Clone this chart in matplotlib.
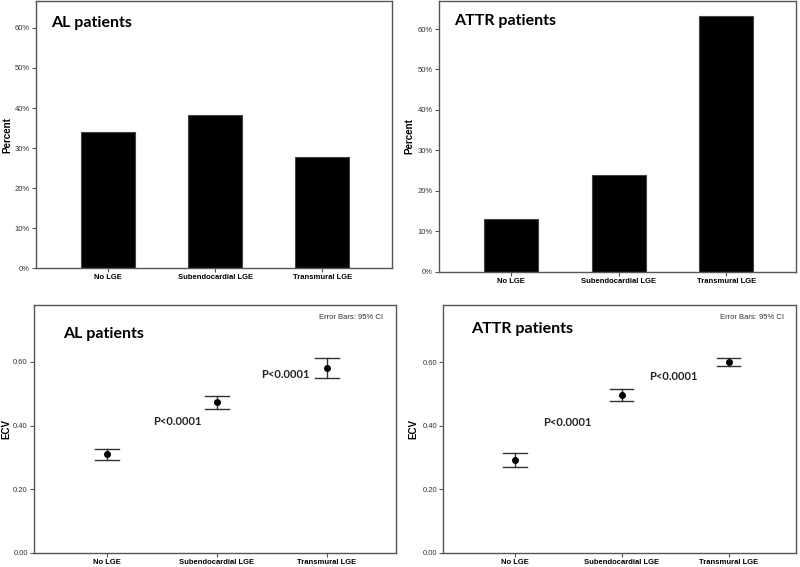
import matplotlib
matplotlib.use("Agg")
import matplotlib.pyplot as plt

categories = ["No LGE", "Subendocardial LGE", "Transmural LGE"]

# percent of patients per LGE pattern
al_pct = [34.0, 38.3, 27.7]
attr_pct = [13.0, 23.9, 63.3]

# ECV mean and 95% CI
al_ecv = [0.310, 0.473, 0.581]
al_lo = [0.293, 0.452, 0.551]
al_hi = [0.326, 0.493, 0.612]
attr_ecv = [0.293, 0.497, 0.600]
attr_lo = [0.270, 0.479, 0.587]
attr_hi = [0.315, 0.515, 0.613]

p_text = "P<0.0001"
al_p_pos = [(0.42, 0.414), (1.40, 0.562)]
attr_p_pos = [(0.26, 0.41), (1.26, 0.554)]

tick_font = "Liberation Sans"
title_font = "Lato"
frame_col = "#555555"

fig = plt.figure(figsize=(8, 5.67), dpi=100)


def style_axes(ax):
    for s in ax.spines.values():
        s.set_color(frame_col)
        s.set_linewidth(1.0)
    ax.tick_params(axis="both", direction="out", length=3, width=0.8,
                   color=frame_col, pad=1.5)
    for lab in ax.get_yticklabels():
        lab.set_fontfamily(tick_font)
        lab.set_fontsize(5.5)
        lab.set_color("#333333")
    for lab in ax.get_xticklabels():
        lab.set_fontfamily(tick_font)
        lab.set_fontsize(5.5)
        lab.set_fontweight("bold")


def side_label(ax, text, x_px):
    pos = ax.get_position()
    fig.text(x_px / 800, (pos.y0 + pos.y1) / 2, text, rotation=90,
             fontfamily=tick_font, fontsize=7, fontweight="bold",
             ha="center", va="center")


def bar_panel(rect, vals, title, ylim_top, title_y, label_x):
    ax = fig.add_axes(rect)
    x = range(len(categories))
    ax.bar(x, vals, width=0.5, color="black", edgecolor="#444444", linewidth=0.8)
    ax.set_xlim(-0.67, 2.65)
    ax.set_ylim(0, ylim_top)
    ax.set_yticks([0, 10, 20, 30, 40, 50, 60])
    ax.set_yticklabels(["%d%%" % v for v in [0, 10, 20, 30, 40, 50, 60]])
    ax.set_xticks(list(x))
    ax.set_xticklabels(categories)
    style_axes(ax)
    side_label(ax, "Percent", label_x)
    ax.text(0.043, title_y, title, transform=ax.transAxes, fontfamily=title_font,
            fontsize=11.5, fontweight="bold", va="center", ha="left")
    return ax


def ci_panel(rect, means, lo, hi, title, title_y, p_pos, label_x):
    ax = fig.add_axes(rect)
    x = list(range(len(categories)))
    for xi, m, l, h in zip(x, means, lo, hi):
        ax.plot([xi, xi], [l, h], color="#333333", lw=1.0)
        ax.plot([xi - 0.11, xi + 0.11], [l, l], color="#333333", lw=1.0)
        ax.plot([xi - 0.11, xi + 0.11], [h, h], color="#333333", lw=1.0)
    ax.plot(x, means, "o", color="black", ms=4, ls="none")
    ax.set_xlim(-0.67, 2.63)
    ax.set_ylim(0, 0.78)
    ax.set_yticks([0, 0.2, 0.4, 0.6])
    ax.set_yticklabels(["0.00", "0.20", "0.40", "0.60"])
    ax.set_xticks(x)
    ax.set_xticklabels(categories)
    style_axes(ax)
    side_label(ax, "ECV", label_x)
    ax.text(0.08, title_y, title, transform=ax.transAxes, fontfamily=title_font,
            fontsize=11.5, fontweight="bold", va="center", ha="left")
    ax.text(0.965, 0.95, "Error Bars: 95% CI", transform=ax.transAxes,
            fontfamily=tick_font, fontsize=5.5, color="#333333",
            ha="right", va="center")
    for px, py in p_pos:
        ax.text(px, py, p_text, fontfamily=title_font, fontsize=8,
                fontweight="bold", ha="left", va="center", color="#222222")
    return ax


bar_panel([0.045, 0.527, 0.445, 0.471], al_pct, "AL patients", 66.7, 0.918, 7.5)
bar_panel([0.549, 0.521, 0.446, 0.477], attr_pct, "ATTR patients", 66.9, 0.926, 409)
ci_panel([0.0425, 0.0247, 0.452, 0.438], al_ecv, al_lo, al_hi,
         "AL patients", 0.883, al_p_pos, 6)
ci_panel([0.554, 0.0252, 0.441, 0.437], attr_ecv, attr_lo, attr_hi,
         "ATTR patients", 0.903, attr_p_pos, 413)

fig.savefig("out.png", dpi=100)
